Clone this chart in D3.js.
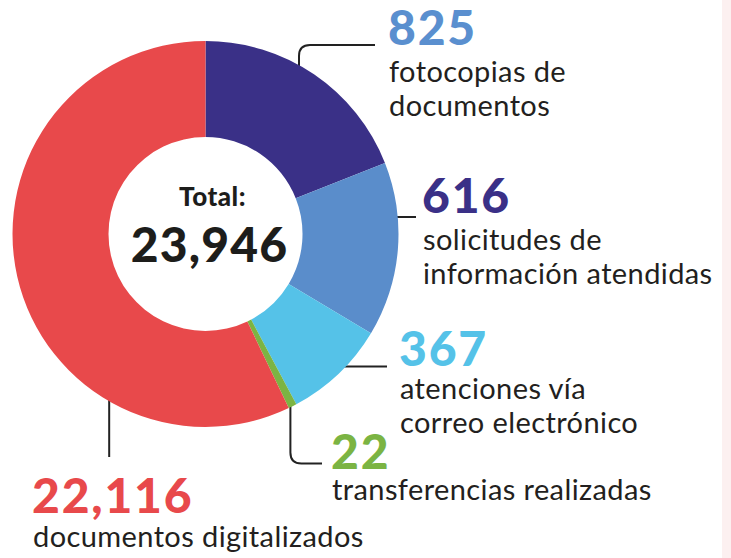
<!DOCTYPE html>
<html>
<head>
<meta charset="utf-8">
<script src="https://cdn.jsdelivr.net/npm/d3@7"></script>
<style>
  body { margin: 0; background: #fff; }
  svg { display: block; }
  .num { font-family: Lato, sans-serif; font-weight: 900; }
  .lbl { font-family: Lato, sans-serif; font-weight: 400; fill: #231f20; }
</style>
</head>
<body>
<div id="chart"></div>
<script>
var w = 731,
  h = 558;

// data
var categories = [
  ["fotocopias de", "documentos"],
  ["solicitudes de", "información atendidas"],
  ["atenciones vía", "correo electrónico"],
  ["transferencias realizadas"],
  ["documentos digitalizados"]
];
var values = [825, 616, 367, 22, 22116];
// share of the ring as it is drawn in the original (percent), not proportional to values
var drawnShare = [19.0, 14.6, 8.6, 0.7, 57.1];

var sliceColors = ["#3a3087", "#5a8dcb", "#55c2e8", "#7bb443", "#e8494b"];
var numberColors = ["#5a8fcf", "#3a3087", "#55c2e8", "#7bb443", "#e8494b"];

// layout for each label block: text x, number baseline, anchor angle on ring (deg), connector end
var cx = 205.5, cy = 234, outerR = 193, innerR = 97;
var layout = [
  { x: 388, numY: 45, lineY: [82, 116], anchor: 30, type: "elbowUp", ex: 375, ey: 45 },
  { x: 422, numY: 213, lineY: [250, 284], anchor: 95, type: "flat", ex: 416, ey: 217 },
  { x: 399, numY: 366, lineY: [399, 433], anchor: 133.5, type: "flat", ex: 387, ey: 366.5 },
  { x: 331, numY: 469, lineY: [500], anchor: 153, type: "elbowDown", ex: 322, ey: 463.5 },
  { x: 32, numY: 513, lineY: [547], anchor: 211, type: "down", ex: 106, ey: 457 }
];

var fmt = d3.format(",");

var svg = d3.select("#chart").append("svg")
  .attr("width", w)
  .attr("height", h);

// pink strip on the right edge
svg.append("rect")
  .attr("x", 722).attr("y", 0)
  .attr("width", w - 722).attr("height", h)
  .attr("fill", "#fcf0f0");

function polar(deg, r) {
  var a = deg * Math.PI / 180;
  return [cx + r * Math.sin(a), cy - r * Math.cos(a)];
}

// connectors (drawn under the ring)
var conn = svg.append("g")
  .attr("fill", "none")
  .attr("stroke", "#222")
  .attr("stroke-width", 2);

layout.forEach(function(l){
  var p = polar(l.anchor, outerR - 6);
  var d = d3.path();
  var r = 11;
  if (l.type === "elbowUp") {
    d.moveTo(p[0], p[1]);
    d.lineTo(p[0], l.ey + r);
    d.quadraticCurveTo(p[0], l.ey, p[0] + r, l.ey);
    d.lineTo(l.ex, l.ey);
  } else if (l.type === "elbowDown") {
    d.moveTo(p[0], p[1]);
    d.lineTo(p[0], l.ey - r);
    d.quadraticCurveTo(p[0], l.ey, p[0] + r, l.ey);
    d.lineTo(l.ex, l.ey);
  } else if (l.type === "flat") {
    d.moveTo(p[0], l.ey);
    d.lineTo(l.ex, l.ey);
  } else {
    d.moveTo(p[0], p[1]);
    d.lineTo(p[0], l.ey);
  }
  conn.append("path").attr("d", d.toString());
});

// ring
var pie = d3.pie()
  .sort(null)
  .value(function(d){ return d; });

var arc = d3.arc()
  .innerRadius(innerR)
  .outerRadius(outerR);

var ring = svg.append("g")
  .attr("transform", "translate(" + cx + "," + cy + ")");

ring.selectAll("path")
  .data(pie(drawnShare))
  .enter()
  .append("path")
  .attr("d", arc)
  .attr("fill", function(d, i){ return sliceColors[i]; });

// center total
ring.append("text")
  .attr("class", "num")
  .attr("x", 7)
  .attr("y", -28)
  .attr("text-anchor", "middle")
  .attr("font-size", "26px")
  .attr("font-weight", 800)
  .attr("letter-spacing", "0.5px")
  .attr("fill", "#1d1d1b")
  .text("Total:");

ring.append("text")
  .attr("class", "num")
  .attr("x", 4)
  .attr("y", 28)
  .attr("text-anchor", "middle")
  .attr("font-size", "48px")
  .attr("letter-spacing", "1.2px")
  .attr("fill", "#1d1d1b")
  .text(fmt(d3.sum(values)));

// labels
var labels = svg.selectAll("g.label")
  .data(values)
  .enter()
  .append("g")
  .attr("class", "label");

labels.append("text")
  .attr("class", "num")
  .attr("x", function(d, i){ return layout[i].x; })
  .attr("y", function(d, i){ return layout[i].numY; })
  .attr("font-size", "48px")
  .attr("letter-spacing", "1.8px")
  .attr("fill", function(d, i){ return numberColors[i]; })
  .text(function(d){ return fmt(d); });

labels.each(function(d, i){
  var g = d3.select(this);
  categories[i].forEach(function(line, j){
    g.append("text")
      .attr("class", "lbl")
      .attr("x", layout[i].x + 1)
      .attr("y", layout[i].lineY[j])
      .attr("font-size", "29px")
      .attr("letter-spacing", "0.4px")
      .text(line);
  });
});
</script>
</body>
</html>
